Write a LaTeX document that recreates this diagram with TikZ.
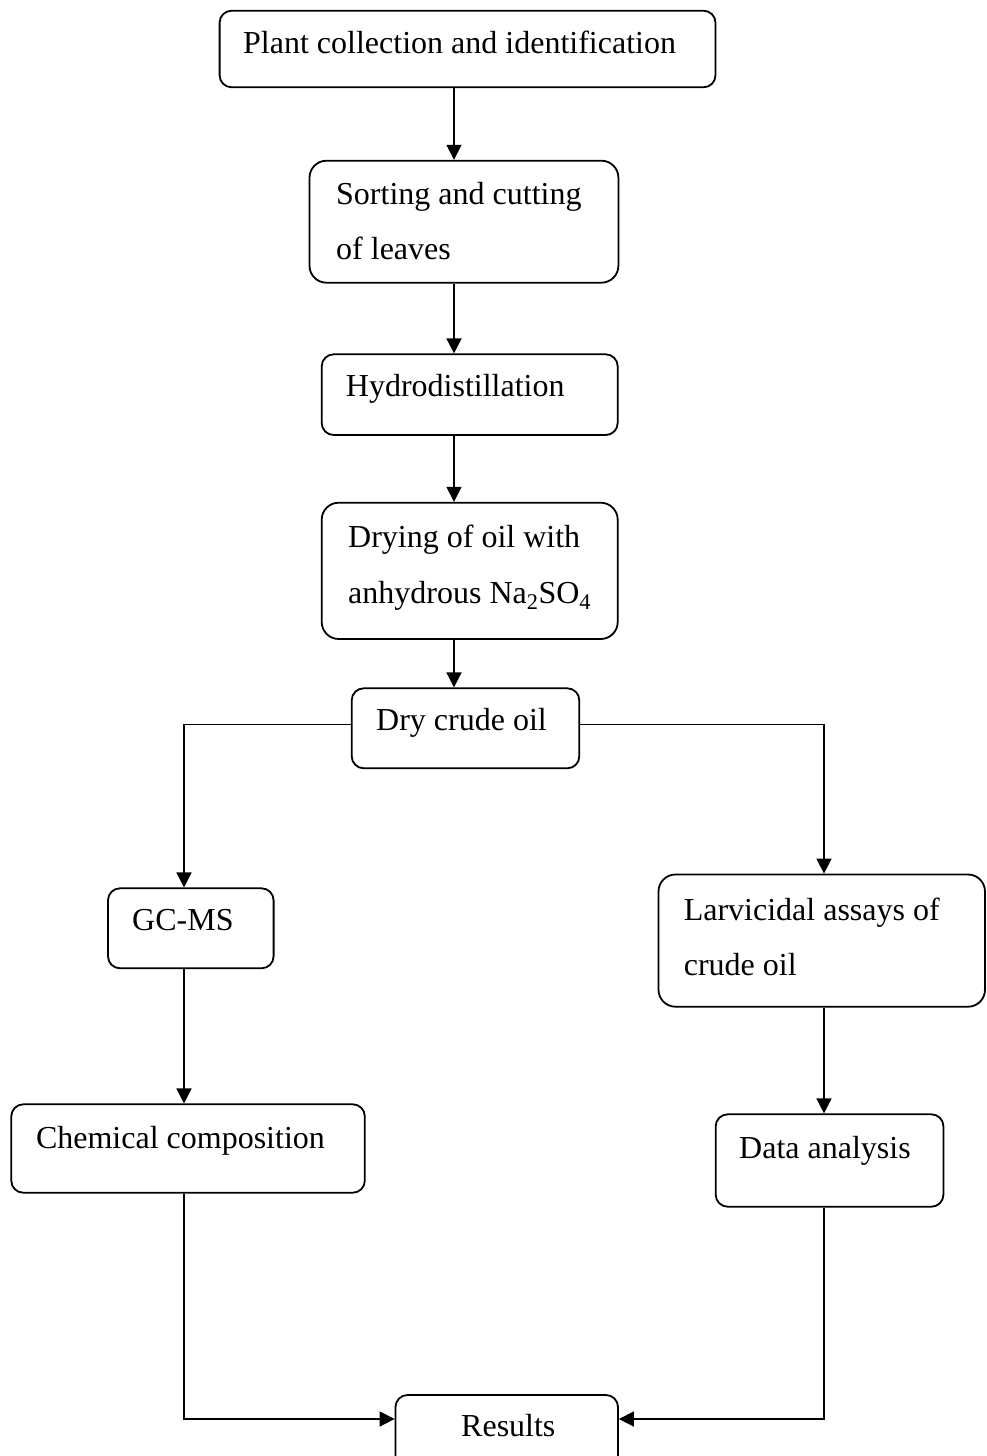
\documentclass[tikz,border=0pt]{standalone}
\usepackage{fontspec}
\setmainfont{Liberation Serif}
\usetikzlibrary{arrows.meta}
\tikzset{
  stepbox/.style={draw=black, line width=1.8pt, rectangle, rounded corners=12pt, inner sep=0pt, fill=white},
  tallbox/.style={stepbox, rounded corners=17pt},
  label/.style={anchor=base west, inner sep=0pt, font=\fontsize{32}{38}\selectfont},
  conn/.style={line width=1.6pt, draw=black},
  arr/.style={conn, -{Triangle[length=15pt,width=15pt]}}
}
\begin{document}
\begin{tikzpicture}[x=1pt,y=-1pt]
\useasboundingbox (0,0) rectangle (986,1456);
\clip (0,0) rectangle (986,1456);
\fill[white] (0,0) rectangle (986,1456);

% boxes
\node[stepbox, minimum width=495.9pt, minimum height=76.6pt] (b1) at (467.55,49) {};
\node[tallbox, minimum width=308.9pt, minimum height=122pt] (b2) at (463.95,221.7) {};
\node[stepbox, minimum width=296pt, minimum height=80.7pt] (b3) at (469.7,394.65) {};
\node[tallbox, minimum width=296pt, minimum height=136.3pt] (b4) at (469.7,570.85) {};
\node[stepbox, minimum width=227.6pt, minimum height=80pt] (b5) at (465.5,728.3) {};
\node[stepbox, minimum width=165.6pt, minimum height=80pt] (b6) at (190.8,928.3) {};
\node[tallbox, minimum width=326.5pt, minimum height=132.2pt] (b7) at (821.75,940.6) {};
\node[stepbox, minimum width=353.5pt, minimum height=88.4pt] (b8) at (188.05,1148.5) {};
\node[stepbox, minimum width=227.7pt, minimum height=92.4pt] (b9) at (829.55,1160.5) {};
\node[stepbox, minimum width=222.5pt, minimum height=85pt] (b10) at (506.75,1437.5) {};

% texts
\node[label] (t1) at (243,53.3) {Plant collection and identification};
\node[label] (t2a) at (336,204.5) {Sorting and cutting};
\node[label] (t2b) at (336,259.5) {of leaves};
\node[label] (t3) at (345.7,396.7) {Hydrodistillation};
\node[label] (t4a) at (348,547.7) {Drying of oil with};
\node[label] (t4b) at (348,603) {anhydrous Na\textsubscript{2}SO\textsubscript{4}};
\node[label] (t5) at (376,730) {Dry crude oil};
\node[label] (t6) at (132,930) {GC-MS};
\node[label] (t7a) at (683.6,920) {Larvicidal assays of};
\node[label] (t7b) at (683.6,975) {crude oil};
\node[label] (t8) at (35.8,1148) {Chemical composition};
\node[label] (t9) at (739,1158) {Data analysis};
\node[label] (t10) at (461,1436.7) {Results};

% guide coordinates
\coordinate (cx) at (454,0);
\coordinate (lx) at (184,0);
\coordinate (rx) at (824,0);
\coordinate (hy) at (0,724.3);
\coordinate (ry) at (0,1419);

% connectors
\draw[arr] (b1.south -| cx) -- (b2.north -| cx);
\draw[arr] (b2.south -| cx) -- (b3.north -| cx);
\draw[arr] (b3.south -| cx) -- (b4.north -| cx);
\draw[arr] (b4.south -| cx) -- (b5.north -| cx);
\draw[arr] (b5.west |- hy) -- (lx |- hy) -- (b6.north -| lx);
\draw[arr] (b5.east |- hy) -- (rx |- hy) -- (b7.north -| rx);
\draw[arr] (b6.south -| lx) -- (b8.north -| lx);
\draw[arr] (b7.south -| rx) -- (b9.north -| rx);
\draw[arr] (b8.south -| lx) -- (lx |- ry) -- (b10.west |- ry);
\draw[arr] (b9.south -| rx) -- (rx |- ry) -- (b10.east |- ry);
\end{tikzpicture}
\end{document}
